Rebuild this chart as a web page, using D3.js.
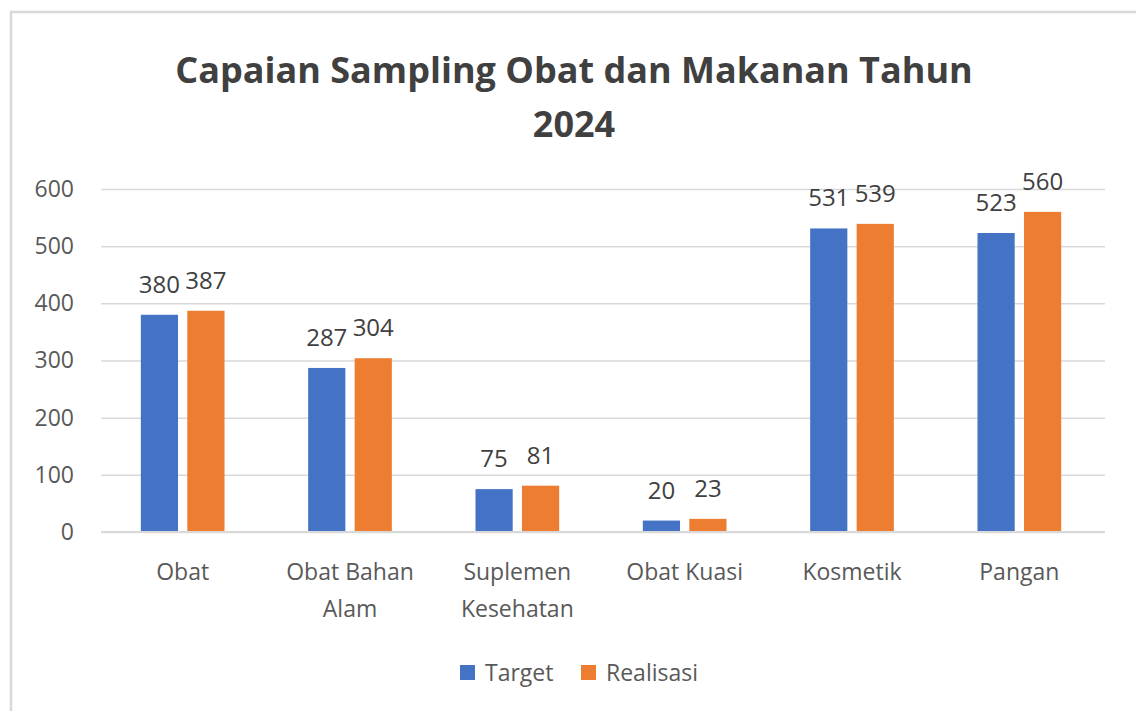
<!DOCTYPE html>
<html>
<head>
<meta charset="utf-8">
<script src="https://cdnjs.cloudflare.com/ajax/libs/d3/7.8.5/d3.min.js"></script>
<style>
  html, body { margin: 0; padding: 0; background: #fff; }
  svg { display: block; font-family: 'Open Sans', 'Noto Sans', sans-serif; }
</style>
</head>
<body>
<svg id="chart" width="1136" height="711"></svg>
<script>
const categories = [
  ['Obat'],
  ['Obat Bahan', 'Alam'],
  ['Suplemen', 'Kesehatan'],
  ['Obat Kuasi'],
  ['Kosmetik'],
  ['Pangan'],
];
const seriesNames = ['Target', 'Realisasi'];
const targetValues = [380, 287, 75, 20, 531, 523];
const realisasiValues = [387, 304, 81, 23, 539, 560];
const yTicks = [0, 100, 200, 300, 400, 500, 600];
const titleLines = ['Capaian Sampling Obat dan Makanan Tahun', '2024'];

const COLORS = ['#4472C4', '#ED7D31'];
const GRID = '#d9d9d9';
const TEXT = '#595959';

const svg = d3.select('#chart');
const plotLeft = 101, plotRight = 1105, plotTop = 189, plotBottom = 532;

// outer chart border (cropped at right and bottom)
svg.append('rect')
  .attr('x', 11).attr('y', 12)
  .attr('width', 1200).attr('height', 800)
  .attr('fill', 'none')
  .attr('stroke', '#d9d9d9')
  .attr('stroke-width', 2.5);

svg.append('g')
  .selectAll('text')
  .data(titleLines)
  .join('text')
  .attr('x', 574)
  .attr('y', (d, i) => 83 + i * 54)
  .attr('text-anchor', 'middle')
  .attr('font-size', 36)
  .attr('font-weight', 'bold')
  .attr('fill', '#404040')
  .text((d) => d);

const x = d3.scaleBand()
  .domain(d3.range(categories.length))
  .range([plotLeft, plotRight])
  .paddingInner(0)
  .paddingOuter(0);

const groupWidth = x.bandwidth() * 0.5;
const xInner = d3.scaleBand()
  .domain(d3.range(seriesNames.length))
  .range([(x.bandwidth() - groupWidth) / 2 - 2, (x.bandwidth() + groupWidth) / 2 - 2])
  .paddingInner(0.2);

const y = d3.scaleLinear().domain([0, 600]).range([plotBottom, plotTop]);

// gridlines
svg.append('g')
  .attr('transform', `translate(${plotLeft},0)`)
  .call(d3.axisLeft(y).tickValues(yTicks).tickSize(plotLeft - plotRight).tickFormat(''))
  .call((g) => g.select('.domain').remove())
  .call((g) => g.selectAll('line').attr('stroke', GRID).attr('stroke-width', 1.5));

// y labels
svg.append('g')
  .attr('transform', `translate(${plotLeft},0)`)
  .call(d3.axisLeft(y).tickValues(yTicks).tickSize(0).tickPadding(27))
  .call((g) => g.select('.domain').remove())
  .call((g) => g.selectAll('text')
    .attr('font-size', 23)
    .attr('font-family', "'Open Sans', sans-serif")
    .attr('fill', TEXT));

const data = categories.map((c, i) => ({ i, values: [targetValues[i], realisasiValues[i]] }));

const groups = svg.append('g')
  .selectAll('g')
  .data(data)
  .join('g')
  .attr('transform', (d) => `translate(${x(d.i)},0)`);

groups.selectAll('rect')
  .data((d) => d.values)
  .join('rect')
  .attr('x', (v, j) => xInner(j))
  .attr('y', (v) => y(v))
  .attr('width', xInner.bandwidth())
  .attr('height', (v) => y(0) - y(v))
  .attr('fill', (v, j) => COLORS[j]);

groups.selectAll('text')
  .data((d) => d.values)
  .join('text')
  .attr('x', (v, j) => xInner(j) + xInner.bandwidth() / 2)
  .attr('y', (v) => y(v) - 22)
  .attr('text-anchor', 'middle')
  .attr('font-size', 24)
  .attr('fill', '#404040')
  .text((v) => v);

// baseline
svg.append('line')
  .attr('x1', plotLeft).attr('x2', plotRight)
  .attr('y1', y(0)).attr('y2', y(0))
  .attr('stroke', GRID).attr('stroke-width', 2);

// category labels
const xAxis = svg.append('g')
  .selectAll('text')
  .data(categories)
  .join('text')
  .attr('x', (d, i) => x(i) + x.bandwidth() / 2 - 2)
  .attr('y', 580)
  .attr('text-anchor', 'middle')
  .attr('font-size', 23)
  .attr('fill', TEXT);

xAxis.selectAll('tspan')
  .data((d) => d)
  .join('tspan')
  .attr('x', function () { return d3.select(this.parentNode).attr('x'); })
  .attr('dy', (d, i) => (i === 0 ? 0 : 37))
  .text((d) => d);

// legend
const legendX = [460, 581];
const legend = svg.append('g')
  .selectAll('g')
  .data(seriesNames)
  .join('g')
  .attr('transform', (d, i) => `translate(${legendX[i]},665)`);

legend.append('rect')
  .attr('width', 15).attr('height', 15)
  .attr('fill', (d, i) => COLORS[i]);

legend.append('text')
  .attr('x', 25)
  .attr('y', 16)
  .attr('font-size', 23)
  .attr('fill', TEXT)
  .text((d) => d);
</script>
</body>
</html>
